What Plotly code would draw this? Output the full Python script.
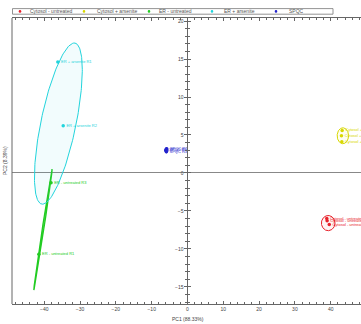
import numpy as np
import plotly.graph_objects as go

# ---------------- data ----------------
groups = ["Cytosol - untreated", "Cytosol + arsenite", "ER - untreated", "ER + arsenite", "SPQC"]
colors = ["#e8202a", "#d8d800", "#22cc22", "#22d4dc", "#2222cc"]
fills = ["rgba(232,32,42,0.05)", "rgba(216,216,0,0.05)", "rgba(34,204,34,0.6)",
         "rgba(34,212,220,0.06)", "rgba(34,34,204,0.05)"]

cyt_unt_x = [39.0, 39.6, 38.9]
cyt_unt_y = [-6.3, -6.8, -6.0]
cyt_unt_lbl = ["Cytosol - untreated R1", "Cytosol - untreated R2", "Cytosol - untreated R3"]

cyt_ars_x = [43.2, 43.0, 43.1]
cyt_ars_y = [5.6, 4.9, 4.1]
cyt_ars_lbl = ["Cytosol + arsenite R1", "Cytosol + arsenite R2", "Cytosol + arsenite R3"]

er_unt_x = [-38.1, -41.5]
er_unt_y = [-1.3, -10.7]
er_unt_lbl = ["ER - untreated R3", "ER - untreated R1"]

er_ars_x = [-36.2, -34.7]
er_ars_y = [14.6, 6.2]
er_ars_lbl = ["ER + arsenite R1", "ER + arsenite R2"]

spqc_x = [-6.0, -5.8, -5.9]
spqc_y = [3.0, 3.2, 2.8]
spqc_lbl = ["SPQC R1", "SPQC R2", "SPQC R3"]

# confidence ellipses: centre, major half-vector, minor half-vector (data units)
ell_center = [(39.3, -6.6), (43.4, 4.9), (-40.35, -7.45), (-36.05, 6.5), (-5.9, 3.0)]
ell_major = [(1.9, 0.0), (1.6, 0.0), (2.55, 7.95), (4.65, 10.6), (0.5, 0.0)]
ell_minor = [(0.0, 1.0), (0.0, 1.05), (0.22, -0.015), (4.8, -0.46), (0.0, 0.35)]

xtick_vals = [-40, -30, -20, -10, 0, 10, 20, 30, 40]
ytick_vals = [-15, -10, -5, 0, 5, 10, 15, 20]
x_title = "PC1 (88.33%)"
y_title = "PC2 (8.39%)"

points = [(cyt_unt_x, cyt_unt_y, cyt_unt_lbl), (cyt_ars_x, cyt_ars_y, cyt_ars_lbl),
          (er_unt_x, er_unt_y, er_unt_lbl), (er_ars_x, er_ars_y, er_ars_lbl),
          (spqc_x, spqc_y, spqc_lbl)]

# ---------------- layout geometry ----------------
W, H = 361, 324
ML, MR, MT, MB = 12, 0, 18, 20
PW, PH = W - ML - MR, H - MT - MB
XR = [-49.0, 48.46]
YR = [-17.25, 20.4]
ypos = (0 - XR[0]) / (XR[1] - XR[0])


def px(xp):
    return (xp - ML) / PW


def py(yp):
    return 1 + (MT - yp) / PH


FONT = "Liberation Sans, Arial, sans-serif"
fig = go.Figure()

t = np.linspace(0, 2 * np.pi, 200)
for i, g in enumerate(groups):
    cx, cy = ell_center[i]
    ux, uy = ell_major[i]
    vx, vy = ell_minor[i]
    ex = cx + ux * np.cos(t) + vx * np.sin(t)
    ey = cy + uy * np.cos(t) + vy * np.sin(t)
    fig.add_trace(go.Scatter(x=ex, y=ey, mode="lines", fill="toself",
                             fillcolor=fills[i],
                             line=dict(color=colors[i], width=1.3 if i == 2 else 1),
                             hoverinfo="skip", showlegend=False))

for i, g in enumerate(groups):
    xs, ys, lb = points[i]
    fig.add_trace(go.Scatter(x=xs, y=ys, mode="markers+text", text=lb,
                             textposition="middle right",
                             textfont=dict(size=4, color=colors[i], family=FONT),
                             marker=dict(color=colors[i], size=3.5),
                             name=g, showlegend=False))

fig.add_trace(go.Scatter(x=[0], y=[0], yaxis="y2", mode="markers",
                         marker=dict(size=0.1, opacity=0), showlegend=False, hoverinfo="skip"))

axcol = "#666666"
fig.update_layout(
    width=W, height=H,
    margin=dict(l=ML, r=MR, t=MT, b=MB, pad=0),
    paper_bgcolor="white", plot_bgcolor="white",
    font=dict(family=FONT, size=5, color="#444"),
    xaxis=dict(range=XR, showgrid=False, zeroline=False, showline=True,
               linecolor=axcol, linewidth=1, mirror="ticks", ticks="inside",
               ticklen=3, tickcolor=axcol, tickvals=xtick_vals,
               minor=dict(dtick=2, ticks="inside", ticklen=2, tickcolor=axcol),
               tickfont=dict(size=5, color="#444")),
    yaxis=dict(range=YR, anchor="free", position=ypos, showgrid=False,
               zeroline=True, zerolinecolor="#888888", zerolinewidth=1,
               showline=True, linecolor=axcol, linewidth=1, ticks="outside",
               ticklen=3, tickcolor=axcol, tickvals=ytick_vals,
               minor=dict(dtick=1, ticks="outside", ticklen=2, tickcolor=axcol),
               tickfont=dict(size=5, color="#444")),
    yaxis2=dict(range=YR, overlaying="y", side="right", anchor="free", position=ypos,
                showgrid=False, zeroline=False, showline=False, showticklabels=False,
                ticks="outside", ticklen=3, tickcolor=axcol, tickvals=ytick_vals,
                minor=dict(dtick=1, ticks="outside", ticklen=2, tickcolor=axcol)),
    showlegend=False,
)

shapes = [dict(type="line", xref="paper", yref="paper", x0=0, x1=0, y0=0, y1=1,
               line=dict(color=axcol, width=1))]
# legend box
shapes.append(dict(type="rect", xref="paper", yref="paper", x0=px(12.5), x1=px(333),
                   y0=py(14.2), y1=py(8.6), line=dict(color="#777", width=0.8),
                   fillcolor="white"))
annots = []
leg_mx = [20, 84, 149, 212, 276]
leg_tx = [28, 95, 157, 222, 287]
for i, g in enumerate(groups):
    shapes.append(dict(type="circle", xref="paper", yref="paper",
                       x0=px(leg_mx[i] - 1.3), x1=px(leg_mx[i] + 1.3),
                       y0=py(12.7), y1=py(10.1), line=dict(width=0),
                       fillcolor=colors[i]))
    annots.append(dict(xref="paper", yref="paper", x=px(leg_tx[i]), y=py(11.4),
                       text=g, showarrow=False, xanchor="left", yanchor="middle",
                       font=dict(size=5, color="#555", family=FONT)))

annots.append(dict(xref="paper", yref="paper", x=px(187.5), y=py(319), text=x_title,
                   showarrow=False, xanchor="center", yanchor="middle",
                   font=dict(size=5, color="#444", family=FONT)))
annots.append(dict(xref="paper", yref="paper", x=px(5), y=py(161), text=y_title,
                   showarrow=False, xanchor="center", yanchor="middle", textangle=-90,
                   font=dict(size=5, color="#444", family=FONT)))

fig.update_layout(shapes=shapes, annotations=annots)
fig.write_html("out.html", config={"displayModeBar": False},
               post_script="document.body.style.margin='0';document.body.style.overflow='hidden';")
